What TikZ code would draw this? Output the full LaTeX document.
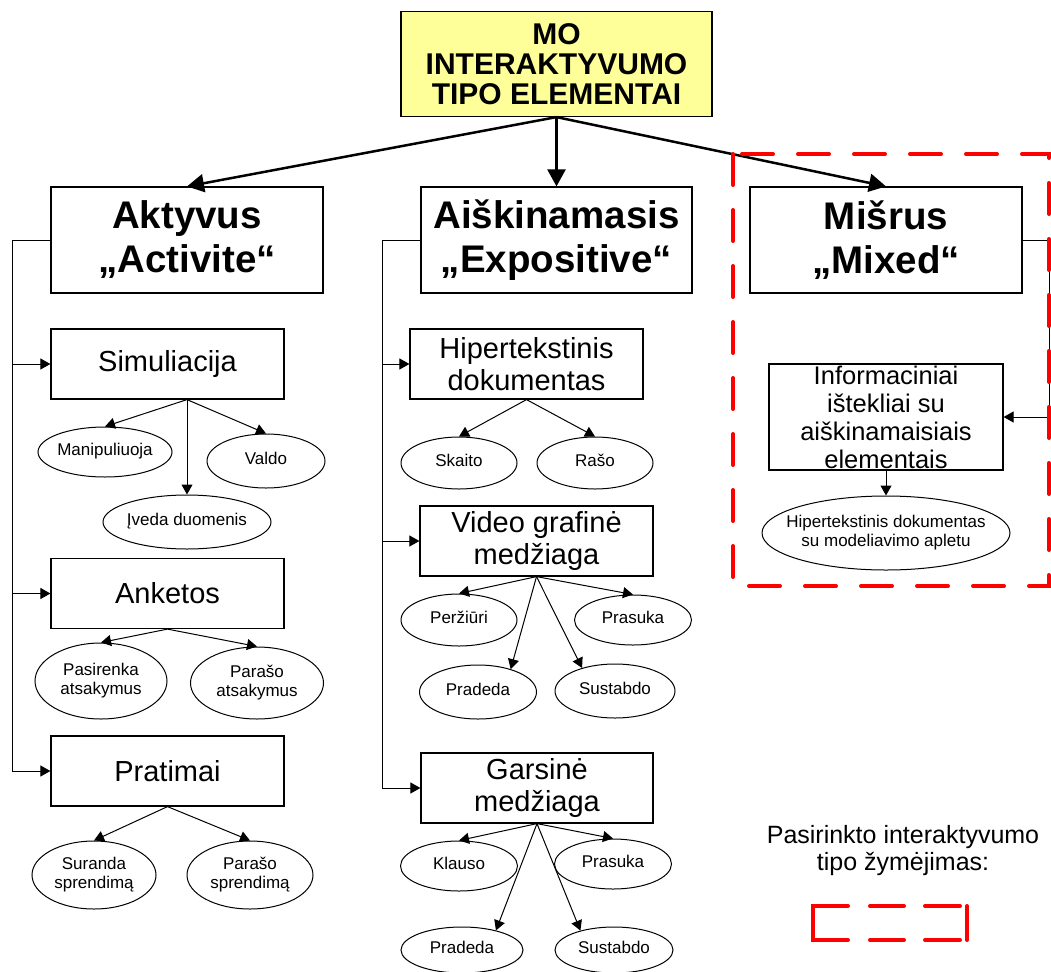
\documentclass[tikz,border=0pt]{standalone}
\usepackage{fontspec}
\setmainfont{Liberation Sans}
\usetikzlibrary{shapes.geometric,arrows.meta,calc}

\definecolor{topyellow}{HTML}{FFFF99}
% zero-width centred stack of lines, so the ellipse keeps its own size
\newcommand{\etxt}[1]{\makebox[0pt]{\begin{tabular}{@{}c@{}}#1\end{tabular}}}

\begin{document}
\begin{tikzpicture}[x=1pt,y=-1pt,
  box/.style={draw,line width=1.2pt,rectangle,inner sep=0pt,align=center},
  topbox/.style={box,fill=topyellow,font=\fontsize{30}{30}\selectfont\bfseries,
                 minimum width=311pt,minimum height=105pt},
  headbox/.style={box,font=\fontsize{38.5}{44}\selectfont\bfseries,
                  minimum width=272pt,minimum height=106pt},
  subbox/.style={box,font=\fontsize{29}{32}\selectfont,
                 minimum width=233pt,minimum height=70pt},
  leaf/.style={draw,line width=1pt,ellipse,inner sep=0pt,
               font=\fontsize{17}{19}\selectfont},
  trunk/.style={line width=1pt},
  conn/.style={line width=1pt,-{Triangle[length=10pt,width=11pt]}},
  mainarrow/.style={line width=2.5pt,-{Triangle[length=17pt,width=18pt]}},
  marker/.style={draw=red,line width=4pt,line cap=round},
]
\fill[white] (0,0) rectangle (1051,971);
\useasboundingbox (0,0) rectangle (1051,971);

% ---- root ----
\node[topbox] (root) at (556.5,64) {MO\\INTERAKTYVUMO\\TIPO ELEMENTAI};

% ---- three interactivity types ----
\node[headbox] (act)   at (187,240)   {Aktyvus\\„Activite“};
\node[headbox,minimum width=271pt] (expo) at (556.5,240) {Aiškinamasis\\„Expositive“};
\node[headbox] (mixed) at (886,240)   {Mišrus\\„Mixed“};

\draw[mainarrow] (root.south) -- (act.north);
\draw[mainarrow] (root.south) -- (expo.north);
\draw[mainarrow] (root.south) -- (mixed.north);

% ---- active branch ----
\node[subbox] (sim)  at (167.5,364)   {Simuliacija};
\node[subbox] (ank)  at (167.5,593.5) {Anketos};
\node[subbox] (prat) at (167.5,771)   {Pratimai};

\node[leaf,minimum width=134pt,minimum height=50pt] (manip)  at (105,452) {\etxt{Manipuliuoja}};
\node[leaf,minimum width=118pt,minimum height=54pt] (valdo)  at (266,461) {\etxt{Valdo}};
\node[leaf,minimum width=168pt,minimum height=54pt] (ived)   at (187,522) {\etxt{Įveda duomenis}};
\node[leaf,minimum width=132pt,minimum height=76pt] (pasir)  at (101,681) {\etxt{Pasirenka\\atsakymus}};
\node[leaf,minimum width=133pt,minimum height=72pt] (paras1) at (257,683) {\etxt{Parašo\\atsakymus}};
\node[leaf,minimum width=124pt,minimum height=68pt] (suran)  at (94,875)  {\etxt{Suranda\\sprendimą}};
\node[leaf,minimum width=126pt,minimum height=68pt] (paras2) at (250,875) {\etxt{Parašo\\sprendimą}};

\coordinate (lrail) at (12,0);
\draw[trunk] (act.west) -- (act.west -| lrail) -- (lrail |- prat.west);
\draw[conn] (lrail |- sim.west)  -- (sim.west);
\draw[conn] (lrail |- ank.west)  -- (ank.west);
\draw[conn] (lrail |- prat.west) -- (prat.west);

\coordinate (simfoot) at (sim.south -| ived.north);
\draw[conn] (simfoot) -- (manip.north);
\draw[conn] (simfoot) -- (valdo.north);
\draw[conn] (simfoot) -- (ived.north);
\draw[conn] (ank.south) -- (pasir.north);
\draw[conn] (ank.south) -- (paras1.north);
\draw[conn] (prat.south) -- (suran.north);
\draw[conn] (prat.south) -- (paras2.north);

% ---- expositive branch ----
\node[subbox] (hiper) at (526.5,364) {Hipertekstinis\\dokumentas};
\node[subbox] (video) at (536.5,541) {Video grafinė\\medžiaga};
\node[subbox,minimum width=232pt] (gars) at (537,788) {Garsinė\\medžiaga};

\node[leaf,minimum width=116pt,minimum height=52pt] (skaito) at (459,463) {\etxt{Skaito}};
\node[leaf,minimum width=116pt,minimum height=52pt] (raso)   at (595,463) {\etxt{Rašo}};
\node[leaf,minimum width=116pt,minimum height=52pt] (perz)   at (459,620) {\etxt{Peržiūri}};
\node[leaf,minimum width=117pt,minimum height=50pt] (pras1)  at (633,620) {\etxt{Prasuka}};
\node[leaf,minimum width=117pt,minimum height=54pt] (prad1)  at (478,692) {\etxt{Pradeda}};
\node[leaf,minimum width=120pt,minimum height=54pt] (sust1)  at (615,691) {\etxt{Sustabdo}};
\node[leaf,minimum width=117pt,minimum height=50pt] (klaus)  at (459,866) {\etxt{Klauso}};
\node[leaf,minimum width=117pt,minimum height=50pt] (pras2)  at (613,864) {\etxt{Prasuka}};
\node[leaf,minimum width=122pt,minimum height=46pt] (prad2)  at (462,950) {\etxt{Pradeda}};
\node[leaf,minimum width=118pt,minimum height=46pt] (sust2)  at (614,950) {\etxt{Sustabdo}};

\coordinate (mrail) at (382,0);
\draw[trunk] (expo.west) -- (expo.west -| mrail) -- (mrail |- gars.west);
\draw[conn] (mrail |- hiper.west) -- (hiper.west);
\draw[conn] (mrail |- video.west) -- (video.west);
\draw[conn] (mrail |- gars.west)  -- (gars.west);

\draw[conn] (hiper.south) -- (skaito.north);
\draw[conn] (hiper.south) -- (raso.north);
\draw[conn] (video.south) -- (perz.north);
\draw[conn] (video.south) -- (pras1.north);
\draw[conn] (video.south) -- (prad1.35);
\draw[conn] (video.south) -- (sust1.145);
\draw[conn] (gars.south) -- (klaus.north);
\draw[conn] (gars.south) -- (pras2.north);
\draw[conn] (gars.south) -- (prad2.30);
\draw[conn] (gars.south) -- (sust2.150);

% ---- mixed branch ----
\node[box,minimum width=234pt,minimum height=106pt] (info) at (886,417) {};
\node[align=center,inner sep=0pt,font=\fontsize{25.5}{28}\selectfont] (infotext) at (info.center)
  {Informaciniai\\ištekliai su\\aiškinamaisiais\\elementais};
\node[leaf,minimum width=248pt,minimum height=74pt] (hipmod) at (886,533)
  {\etxt{Hipertekstinis dokumentas\\su modeliavimo apletu}};

\coordinate (rrail) at (1049,0);
\draw[conn] (mixed.east) -| (rrail |- info.east) -- (info.east);
\draw[conn] (info.south) -- (hipmod.north);

% selected type marker
\draw[marker,dash pattern=on 31pt off 25pt] (733,154) rectangle (1049,586);

% ---- legend ----
\node[align=center,inner sep=0pt,font=\fontsize{25}{27}\selectfont] (legend) at (903,851)
  {Pasirinkto interaktyvumo\\tipo žymėjimas:};
\draw[marker] (848,906) -- (813,906) -- (813,940) -- (848,940);
\draw[marker] (870,906) -- (904,906);
\draw[marker] (870,940) -- (904,940);
\draw[marker] (925,906) -- (960,906);
\draw[marker] (925,940) -- (960,940);
\draw[marker] (967,906) -- (967,940);
\end{tikzpicture}
\end{document}
